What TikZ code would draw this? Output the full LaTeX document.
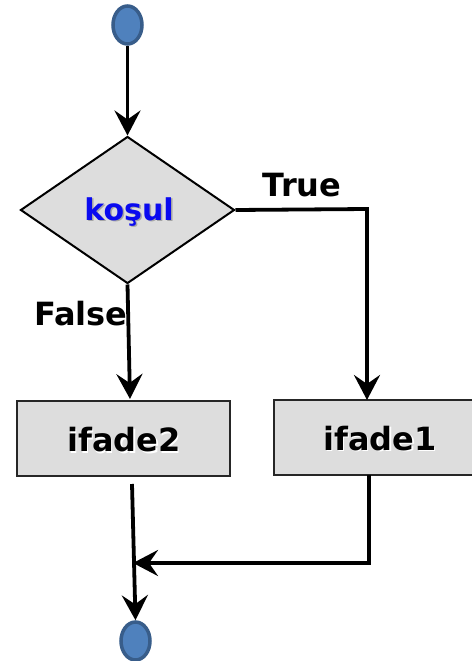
\documentclass[tikz,border=0pt]{standalone}
\usepackage{fontspec}
\setmainfont{DejaVu Sans}
\usetikzlibrary{arrows.meta,shapes.geometric,calc}
\definecolor{termfill}{HTML}{4F81BD}
\definecolor{termline}{HTML}{385D8A}
\definecolor{boxfill}{HTML}{DDDDDD}
\definecolor{condblue}{HTML}{0A0AF0}
\tikzset{
  term/.style={ellipse, draw=termline, fill=termfill, line width=3.5pt, minimum width=29pt, minimum height=38pt, inner sep=0pt},
  decision/.style={diamond, draw=black, fill=boxfill, line width=2pt, minimum width=214pt, minimum height=147pt, inner sep=0pt},
  stepbox/.style={rectangle, draw=black!85, fill=boxfill, line width=2.5pt, minimum width=213pt, minimum height=75pt, inner sep=0pt},
  flow/.style={draw=black, line width=3.8pt, -{Stealth[length=25pt,width=26pt,inset=9pt]}},
  lbl/.style={font=\fontsize{32}{38}\selectfont\bfseries, inner sep=0pt},
  condfont/.style={font=\fontsize{30}{36}\selectfont\bfseries, inner sep=0pt},
}
\begin{document}
\begin{tikzpicture}[x=1pt,y=-1pt]
\useasboundingbox (0,0) rectangle (471,661);
\node[term] (start) at (127.5,25) {};
\node[decision] (cond) at (127.5,210) {};
\node[condfont, text=gray!70] at (130.5,213.5) {koşul};
\node[condfont, text=condblue] (condtxt) at (129,212) {koşul};
\node[stepbox] (b2) at (123.5,438.5) {};
\node[lbl, text=white] at (125.5,441.5) {ifade2};
\node[lbl] (b2txt) at (124,440) {ifade2};
\node[stepbox] (b1) at (380.5,437.5) {};
\node[lbl, text=white] at (381.5,440) {ifade1};
\node[lbl] (b1txt) at (380,438.5) {ifade1};
\node[term] (stop) at (135.5,641) {};
\node[lbl] (truelbl) at (302,185) {True};
\node[lbl] (falselbl) at (81,314) {False};
\coordinate (tcorner) at (367,209);
\coordinate (tend) at (367,400);
\coordinate (fend) at (130,399);
\coordinate (b2out) at (132,484);
\coordinate (b1out) at (369,475);
\coordinate (merge) at (133,563);
\draw[flow] (start.south) -- (cond.north);
\draw[flow] (cond.south) -- (fend);
\draw[flow] (cond.east) -- (tcorner) -- (tend);
\draw[flow] (b2out) -- (stop.north);
\draw[flow] (b1out) |- (merge);
\end{tikzpicture}
\end{document}
